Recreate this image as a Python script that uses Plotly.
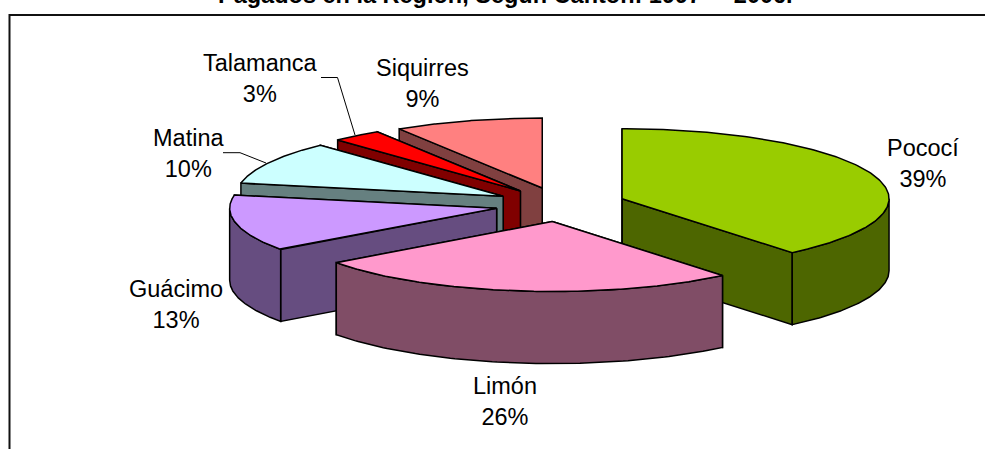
import numpy as np
import plotly.graph_objects as go

# Data
cantones = ["Pococí", "Limón", "Guácimo", "Matina", "Talamanca", "Siquirres"]
porcentajes = [39, 26, 13, 10, 3, 9]
top_colors = ["#99CC00", "#FF99CC", "#CC99FF", "#CCFFFF", "#FF0000", "#FF8080"]
side_colors = ["#4D6600", "#804D66", "#664D80", "#668080", "#800000", "#804040"]
draw_order = ["Siquirres", "Talamanca", "Matina", "Guácimo", "Pococí", "Limón"]
title_text = "Pagados en la Región, Según Cantón: 1997 –  2006."

# Projection of the tilted, exploded pie (pixel-like axis units)
CX, CY, RX, RY, DEPTH, PULL = 560.5, 204.5, 267.0, 70.0, 72.0, 0.245
LW = 1.5
FONT = "Liberation Sans, Arial, sans-serif"
LABEL_POS = {
    "Pococí": (923, 163), "Limón": (504.5, 401.5), "Guácimo": (175.8, 304),
    "Matina": (188.3, 153), "Talamanca": (260.5, 78), "Siquirres": (422.5, 83),
}
LEADERS = {"Matina": ([223, 240, 266], [152.7, 152.7, 163]),
           "Talamanca": ([321, 337.5, 355], [77.5, 77.5, 135])}

fig = go.Figure()


def poly(xs, ys, color):
    fig.add_trace(go.Scatter(
        x=list(xs), y=list(ys), mode="lines", fill="toself", fillcolor=color,
        line=dict(color="black", width=LW), hoverinfo="skip", showlegend=False))


edges = np.cumsum([0] + porcentajes) / sum(porcentajes) * 2 * np.pi
for name in draw_order:
    i = cantones.index(name)
    t0, t1 = edges[i], edges[i + 1]
    mid = (t0 + t1) / 2
    ax = CX + PULL * RX * np.sin(mid)
    ay = CY - PULL * RY * np.cos(mid)
    px = lambda t: ax + RX * np.sin(t)
    py = lambda t: ay - RY * np.cos(t)

    # radial walls first, so that hidden ones end up covered
    for t in (t1, t0):
        poly([ax, px(t), px(t), ax, ax],
             [ay, py(t), py(t) + DEPTH, ay + DEPTH, ay], side_colors[i])
    # outer wall: the part of the rim that faces the viewer
    a0, a1 = max(t0, np.pi / 2), min(t1, 3 * np.pi / 2)
    if a1 > a0:
        arc = np.linspace(a0, a1, 90)
        poly(np.r_[px(arc), px(arc)[::-1], px(arc[0])],
             np.r_[py(arc), py(arc)[::-1] + DEPTH, py(arc[0])], side_colors[i])
    # top face
    arc = np.linspace(t0, t1, 160)
    poly(np.r_[ax, px(arc), ax], np.r_[ay, py(arc), ay], top_colors[i])

for name, (lx, ly) in LEADERS.items():
    fig.add_trace(go.Scatter(x=lx, y=ly, mode="lines", line=dict(color="black", width=1),
                             hoverinfo="skip", showlegend=False))

for name, pct in zip(cantones, porcentajes):
    lx, ly = LABEL_POS[name]
    fig.add_annotation(x=lx, y=ly, text=f"{name}<br>{pct}%", showarrow=False,
                       font=dict(family=FONT, size=23.5, color="black"),
                       xanchor="center", yanchor="middle", align="center")

fig.add_annotation(x=505, y=3.5, text=f"<b>{title_text}</b>", showarrow=False,
                   font=dict(family=FONT, size=23.5, color="black"),
                   xanchor="center", yanchor="bottom", yshift=-6.5)

fig.add_shape(type="rect", x0=9.5, y0=15, x1=1100, y1=600, layer="below",
              line=dict(color="#111111", width=2))

fig.update_layout(
    width=985, height=449, margin=dict(l=0, r=0, t=0, b=0),
    paper_bgcolor="white", plot_bgcolor="white", showlegend=False, hovermode=False,
    xaxis=dict(range=[0, 985], visible=False, fixedrange=True),
    yaxis=dict(range=[449, 0], visible=False, fixedrange=True),
)
fig.write_html("out.html", config={"displayModeBar": False},
               post_script="document.body.style.margin='0';document.documentElement.style.overflow='hidden';")
